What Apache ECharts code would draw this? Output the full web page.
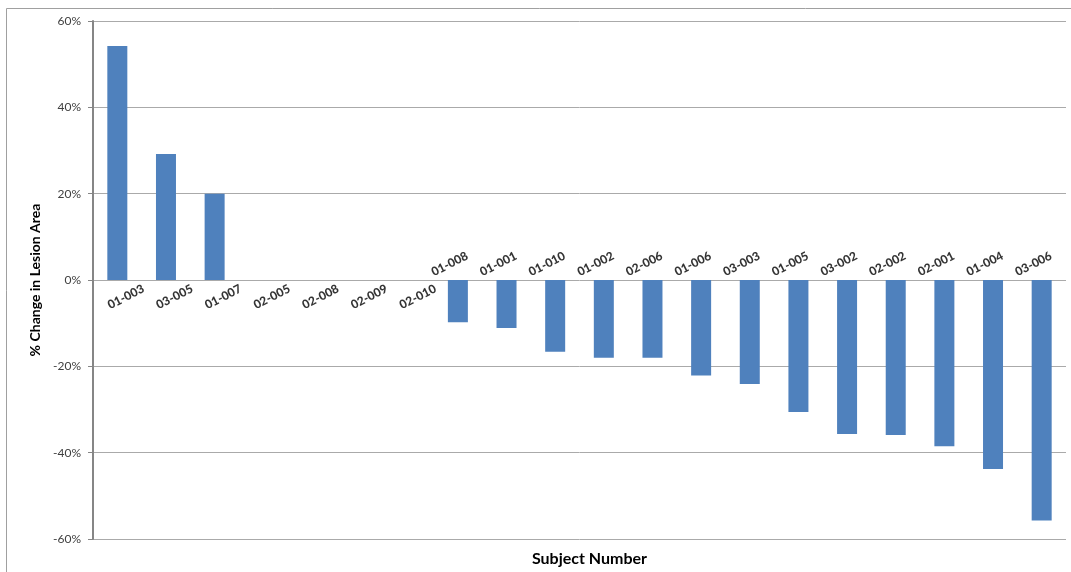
<!DOCTYPE html>
<html>
<head>
<meta charset="utf-8">
<script src="https://cdn.jsdelivr.net/npm/echarts@6/dist/echarts.min.js"></script>
<style>
html,body{margin:0;padding:0;background:#fff;}
#c{width:1071px;height:572px;}
</style>
</head>
<body>
<div id="c"></div>
<script>
const categories = ['01-003','03-005','01-007','02-005','02-008','02-009','02-010','01-008','01-001','01-010','01-002','02-006','01-006','03-003','01-005','03-002','02-002','02-001','01-004','03-006'];
const values = [54.2, 29.2, 20.0, 0, 0, 0, 0, -9.8, -11.1, -16.6, -18.0, -18.0, -22.1, -24.1, -30.6, -35.7, -35.9, -38.5, -43.8, -55.7];
const yTicks = { min: -60, max: 60, interval: 20 };
const xTitle = 'Subject Number';
const yTitle = '% Change in Lesion Area';

const chart = echarts.init(document.getElementById('c'), null, {renderer: 'canvas'});

const labelData = categories.map((c, i) => ({
  value: [c, 0],
  label: {
    offset: [0, values[i] >= 0 ? 19 : -18]
  }
}));

chart.setOption({
  animation: false,
  backgroundColor: '#ffffff',
  graphic: [{
    type: 'rect',
    shape: {x: 6.5, y: 8.5, width: 1200, height: 700},
    style: {fill: 'none', stroke: '#a0a0a0', lineWidth: 1},
    silent: true,
    z: -1
  }],
  grid: {left: 93, right: 5, top: 21, bottom: 28, containLabel: false},
  xAxis: {
    type: 'category',
    data: categories,
    boundaryGap: true,
    position: 'bottom',
    axisLine: {show: false, onZero: false},
    axisTick: {show: false},
    axisLabel: {show: false},
    splitLine: {show: false},
    name: xTitle,
    nameLocation: 'middle',
    nameGap: 12,
    nameTextStyle: {fontFamily: 'Lato', fontWeight: 'bold', fontSize: 16, color: '#000', padding: [0, 0, 0, 20]}
  },
  yAxis: {
    type: 'value',
    min: yTicks.min,
    max: yTicks.max,
    interval: yTicks.interval,
    axisLine: {show: true, lineStyle: {color: '#868686', width: 2}},
    axisTick: {show: true, inside: false, length: 5, lineStyle: {color: '#868686', width: 1}},
    axisLabel: {formatter: '{value}%', fontFamily: 'Lato', fontSize: 12, color: '#404040', margin: 12},
    splitLine: {show: true, lineStyle: {color: '#aaaaaa', width: 1}},
    name: yTitle,
    nameLocation: 'middle',
    nameRotate: 90,
    nameGap: 47,
    nameTextStyle: {fontFamily: 'Lato', fontWeight: 'bold', fontSize: 14, color: '#000'}
  },
  series: [
    {
      type: 'bar',
      data: values,
      barWidth: 20,
      itemStyle: {color: '#4F81BD'},
      z: 2
    },
    {
      type: 'scatter',
      data: labelData,
      symbolSize: 1,
      itemStyle: {color: 'rgba(0,0,0,0)'},
      silent: true,
      label: {
        show: true,
        position: 'inside',
        rotate: 27,
        align: 'center',
        verticalAlign: 'middle',
        formatter: p => p.name || p.value[0],
        fontFamily: 'Lato',
        fontWeight: 900,
        fontSize: 12,
        color: '#000'
      },
      z: 3
    }
  ]
});
</script>
</body>
</html>
